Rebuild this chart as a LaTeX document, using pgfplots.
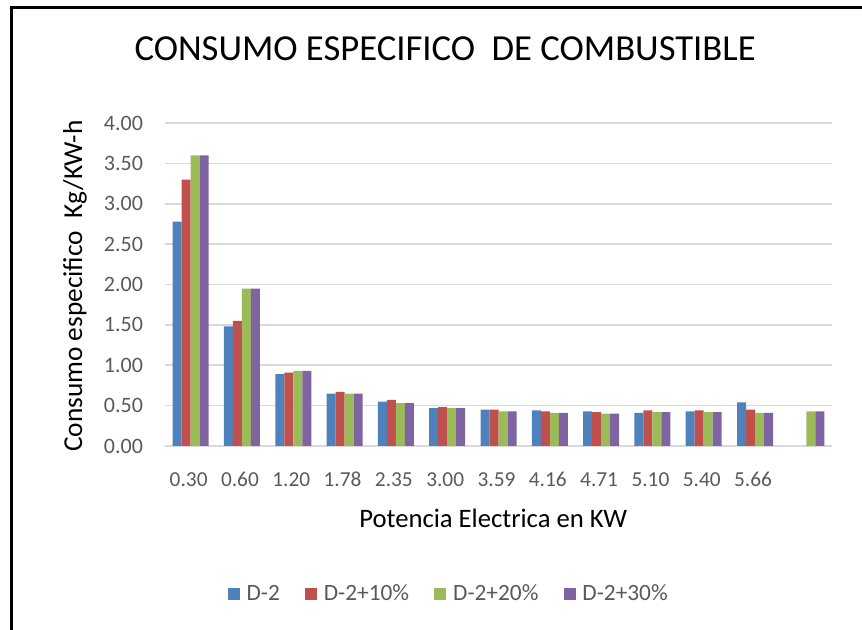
\documentclass[border=0pt]{standalone}
\usepackage{fontspec}
\setmainfont{Carlito}
\usepackage{pgfplots}
\pgfplotsset{compat=1.18}

\definecolor{cblue}{HTML}{4F81BD}
\definecolor{cred}{HTML}{C0504D}
\definecolor{cgreen}{HTML}{9BBB59}
\definecolor{cpurple}{HTML}{8064A2}
\definecolor{tickgray}{HTML}{595959}
\definecolor{gridgray}{HTML}{D9D9D9}

\begin{document}
\begin{tikzpicture}
\begin{axis}[
  at={(0,0)}, anchor=south west,
  scale only axis, width=500.25pt, height=242.25pt,
  ybar=0pt, bar width=6.75pt,
  xmin=-0.5, xmax=12.5, ymin=0, ymax=4,
  xtick={0,...,12},
  xticklabels={0.30,0.60,1.20,1.78,2.35,3.00,3.59,4.16,4.71,5.10,5.40,5.66,{}},
  ytick={0,0.5,...,4},
  /pgf/number format/assume math mode=true,
  yticklabel style={font=\fontsize{16.5}{19}\selectfont, text=tickgray, xshift=-13pt,
    /pgf/number format/.cd,fixed,fixed zerofill,precision=2},
  xticklabel style={font=\fontsize{16}{19}\selectfont, text=tickgray, anchor=base, yshift=-30.5pt, xshift=-1.5pt},
  major tick length=0pt,
  axis line style={draw=none},
  ymajorgrids, grid style={gridgray, line width=1.2pt},
  title={CONSUMO ESPECIFICO\ \ DE COMBUSTIBLE},
  title style={at={(axis description cs:0.42,1.170)}, anchor=base, font=\fontsize{27.5}{32}\selectfont},
  xlabel={Potencia Electrica en KW},
  xlabel style={at={(axis description cs:0.492,-0.251)}, anchor=base, font=\fontsize{20}{24}\selectfont},
  ylabel={Consumo especifico\ \ Kg/KW-h},
  ylabel style={at={(axis description cs:-0.1244,0.495)}, anchor=base, rotate=0, font=\fontsize{20.5}{25}\selectfont},
  legend columns=4,
  legend style={at={(axis description cs:0.426,-0.458)}, anchor=center, draw=none,
    font=\fontsize{17.5}{21}\selectfont, text=tickgray,
    /tikz/every odd column/.append style={column sep=3pt},
    /tikz/every even column/.append style={column sep=17pt}},
  legend image code/.code={\fill[#1] (0pt,-4.5pt) rectangle (9pt,4.5pt);},
]
\addplot+[fill=cblue, draw=none] coordinates {(0,2.78) (1,1.48) (2,0.89) (3,0.65) (4,0.55) (5,0.47) (6,0.45) (7,0.44) (8,0.43) (9,0.41) (10,0.43) (11,0.54)};
\addlegendentry{D-2}
\addplot+[fill=cred, draw=none] coordinates {(0,3.30) (1,1.55) (2,0.91) (3,0.67) (4,0.57) (5,0.48) (6,0.45) (7,0.43) (8,0.42) (9,0.44) (10,0.44) (11,0.45)};
\addlegendentry{D-2+10\%}
\addplot+[fill=cgreen, draw=none] coordinates {(0,3.60) (1,1.95) (2,0.93) (3,0.65) (4,0.53) (5,0.47) (6,0.43) (7,0.41) (8,0.40) (9,0.42) (10,0.42) (11,0.41) (12,0.43)};
\addlegendentry{D-2+20\%}
\addplot+[fill=cpurple, draw=none] coordinates {(0,3.60) (1,1.95) (2,0.93) (3,0.65) (4,0.53) (5,0.47) (6,0.43) (7,0.41) (8,0.40) (9,0.42) (10,0.42) (11,0.41) (12,0.43)};
\addlegendentry{D-2+30\%}
\end{axis}
\draw[line width=2.25pt] (-114.75pt,-138pt) -- (-114.75pt,328.5pt) -- (522.75pt,328.5pt);
\pgfresetboundingbox
\path[use as bounding box] (-123.75pt,-138pt) rectangle (522.75pt,334.5pt);
\end{tikzpicture}
\end{document}
